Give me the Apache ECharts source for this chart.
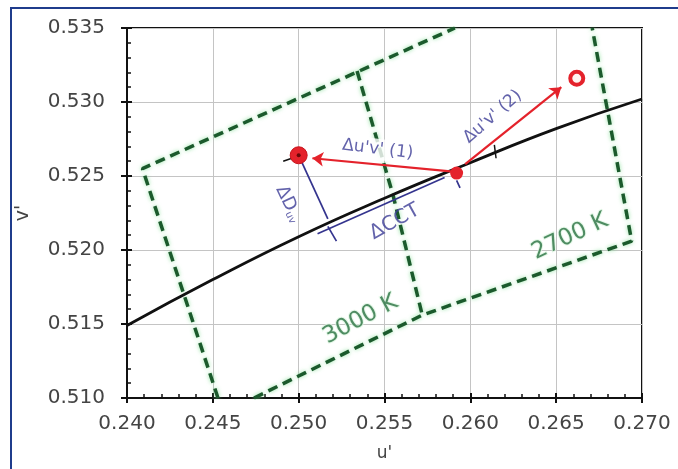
<!DOCTYPE html>
<html>
<head>
<meta charset="utf-8">
<script src="https://cdn.jsdelivr.net/npm/echarts@6/dist/echarts.min.js"></script>
<style>
html,body{margin:0;padding:0;background:#fff;}
#c{width:678px;height:469px;}
</style>
</head>
<body>
<div id="c"></div>
<script>
// Axis ranges / ticks
const U_MIN = 0.240, U_MAX = 0.270, U_STEP = 0.005;
const V_MIN = 0.510, V_MAX = 0.535, V_STEP = 0.005;

// Planckian locus (u', v')
const locusU = [0.240, 0.245, 0.250, 0.255, 0.260, 0.265, 0.270];
const locusV = [0.5149, 0.5180, 0.5209, 0.5235, 0.5259, 0.5282, 0.5302];

// Quadrangle outlines (dashed green)
const quadLeftTop = [[0.2453, 0.5100], [0.2409, 0.5255], [0.2591, 0.5350]];
const quadDivider = [[0.2534, 0.5321], [0.2555, 0.5237], [0.2572, 0.5156]];
const quadLowerRight = [[0.2474, 0.5100], [0.2572, 0.5156], [0.2694, 0.5206], [0.2671, 0.5350]];

// Red points
const ptMain = [0.2592, 0.5252];
const ptOne = [0.2500, 0.5264];
const ptTwo = [0.2662, 0.5316];

// Red arrows
const arrowOne = [[0.2590, 0.5253], [0.2508, 0.5262]];
const arrowTwo = [[0.2597, 0.5258], [0.2653, 0.5310]];

// Blue construction lines
const lineDuv = [[0.2500, 0.5264], [0.2517, 0.5221]];
const lineCct = [[0.2511, 0.5211], [0.2585, 0.5249]];
const tickCctLeft = [[0.2517, 0.5216], [0.2522, 0.5206]];
const tickCctRight = [[0.2592, 0.5247], [0.2594, 0.5242]];

// Small black marks
const markOne = [[0.2491, 0.5260], [0.2496, 0.5262]];
const markLocus = [[0.2614, 0.5271], [0.2615, 0.5262]];

// Annotation labels: [u, v, text, rotation]
const greenLabels = [[0.2536, 0.5153, '3000 K', 28], [0.2658, 0.5209, '2700 K', 25]];
const blueLabels = [
  [0.2546, 0.5268, "\u0394u'v' (1)", -7],
  [0.2613, 0.5290, "\u0394u'v' (2)", 41],
  [0.2556, 0.5219, '\u0394CCT', 29]
];
const duvLabel = [0.2494, 0.5231, '{a|\u0394D}{b|uv}', -65];

const chart = echarts.init(document.getElementById('c'));

const DASH_GREEN = {color: '#1b5a2c', width: 3.5, type: [10, 6], shadowColor: 'rgba(120,220,140,0.8)', shadowBlur: 4};
const BLUE = '#34348e';
const RED = '#e4222b';

function seg(data, style, z) {
  return {type: 'line', data: data, showSymbol: false, symbol: 'none', lineStyle: style, z: z || 3, silent: true, animation: false};
}

const option = {
  animation: false,
  backgroundColor: '#fff',
  grid: {left: 127, right: 36, top: 28, bottom: 71, show: true, borderColor: '#111', borderWidth: 2, backgroundColor: '#fff'},
  xAxis: [{
    type: 'value', min: U_MIN, max: U_MAX, interval: U_STEP,
    name: "u'", nameLocation: 'middle', nameGap: 47,
    nameTextStyle: {fontFamily: 'DejaVu Sans', fontSize: 17, color: '#444'},
    axisLine: {show: true, onZero: false, lineStyle: {color: '#111', width: 2}},
    axisTick: {show: true, inside: true, length: 5, lineStyle: {color: '#111', width: 2}},
    minorTick: {show: true, splitNumber: 5, length: 4, lineStyle: {color: '#111', width: 1.5}},
    splitLine: {show: true, lineStyle: {color: '#c4c4c4', width: 1}},
    axisLabel: {margin: 16, fontFamily: 'DejaVu Sans', fontSize: 20, color: '#444', formatter: v => v.toFixed(3)}
  }, {
    type: 'value', min: U_MIN, max: U_MAX, interval: U_STEP, position: 'bottom',
    axisLine: {show: false}, axisLabel: {show: false}, splitLine: {show: false},
    axisTick: {show: true, inside: false, length: 5, lineStyle: {color: '#111', width: 2}}
  }],
  yAxis: [{
    type: 'value', min: V_MIN, max: V_MAX, interval: V_STEP,
    name: "v'", nameLocation: 'middle', nameGap: 94, nameRotate: 90,
    nameTextStyle: {fontFamily: 'DejaVu Sans', fontSize: 19, color: '#444'},
    axisLine: {show: true, onZero: false, lineStyle: {color: '#111', width: 2}},
    axisTick: {show: true, inside: true, length: 5, lineStyle: {color: '#111', width: 2}},
    minorTick: {show: true, splitNumber: 5, length: 4, lineStyle: {color: '#111', width: 1.5}},
    splitLine: {show: true, lineStyle: {color: '#c4c4c4', width: 1}},
    axisLabel: {margin: 22, fontFamily: 'DejaVu Sans', fontSize: 20, color: '#444', formatter: v => v.toFixed(3)}
  }, {
    type: 'value', min: V_MIN, max: V_MAX, interval: V_STEP, position: 'left',
    axisLine: {show: false}, axisLabel: {show: false}, splitLine: {show: false},
    axisTick: {show: true, inside: false, length: 6, lineStyle: {color: '#111', width: 2}}
  }],
  graphic: [{
    type: 'rect', shape: {x: 11, y: 8, width: 700, height: 500},
    style: {fill: 'none', stroke: '#1f3c8c', lineWidth: 2}, silent: true, z: 100
  }],
  series: [
    seg(quadLeftTop, DASH_GREEN, 3),
    seg(quadDivider, DASH_GREEN, 3),
    seg(quadLowerRight, DASH_GREEN, 3),
    {type: 'line', data: locusU.map((u, i) => [u, locusV[i]]), smooth: true, showSymbol: false, symbol: 'none',
     lineStyle: {color: '#111', width: 2.8}, z: 4, silent: true},
    seg(lineDuv, {color: BLUE, width: 1.7}, 5),
    seg(lineCct, {color: BLUE, width: 1.7}, 5),
    seg(tickCctLeft, {color: BLUE, width: 1.7}, 5),
    seg(tickCctRight, {color: BLUE, width: 1.7}, 5),
    seg(markOne, {color: '#111', width: 1.5}, 5),
    seg(markLocus, {color: '#111', width: 1.5}, 5),
    {type: 'scatter', symbolSize: 0, z: 5, silent: true,
     data: blueLabels.map(d => ({value: [d[0], d[1]], label: {show: true, formatter: d[2], rotate: d[3], position: 'inside',
       fontFamily: 'DejaVu Sans', fontSize: d[2] === '\u0394CCT' ? 20 : 17, color: '#3c3c96',
       backgroundColor: d[3] === -7 ? '#fff' : 'transparent', padding: d[3] === -7 ? [2, 2] : 0}}))},
    {type: 'lines', coordinateSystem: 'cartesian2d', symbol: ['none', 'arrow'], symbolSize: [0, 11],
     lineStyle: {color: RED, width: 2.2, opacity: 1}, z: 6, silent: true,
     data: [{coords: arrowOne}, {coords: arrowTwo}]},
    {type: 'scatter', data: [ptMain], symbolSize: 13, itemStyle: {color: RED, opacity: 1}, z: 7, silent: true},
    {type: 'scatter', data: [ptOne], symbolSize: 17, itemStyle: {color: RED, opacity: 1, borderColor: '#c8141c', borderWidth: 1}, z: 7, silent: true},
    {type: 'scatter', data: [ptOne], symbolSize: 4, itemStyle: {color: '#6a0808', opacity: 1}, z: 8, silent: true},
    {type: 'scatter', data: [ptTwo], symbolSize: 13, itemStyle: {color: '#fff4f0', opacity: 1, borderColor: RED, borderWidth: 4}, z: 7, silent: true},
    {type: 'scatter', symbolSize: 0, z: 9, silent: true,
     data: greenLabels.map(d => ({value: [d[0], d[1]], label: {show: true, formatter: d[2], rotate: d[3], position: 'inside',
       fontFamily: 'DejaVu Sans', fontSize: 23, color: '#287040', textBorderColor: '#dff6e2', textBorderWidth: 2}}))},
    {type: 'scatter', symbolSize: 0, z: 9, silent: true,
     data: [{value: [duvLabel[0], duvLabel[1]], label: {show: true, formatter: duvLabel[2], rotate: duvLabel[3], position: 'inside',
       color: '#3c3c96', rich: {a: {fontFamily: 'DejaVu Sans', fontSize: 18, color: '#3c3c96'}, b: {fontFamily: 'DejaVu Sans', fontSize: 10, color: '#3c3c96', verticalAlign: 'bottom', padding: [8, 0, 0, 0]}}}}]}
  ]
};
chart.setOption(option);
</script>
</body>
</html>
